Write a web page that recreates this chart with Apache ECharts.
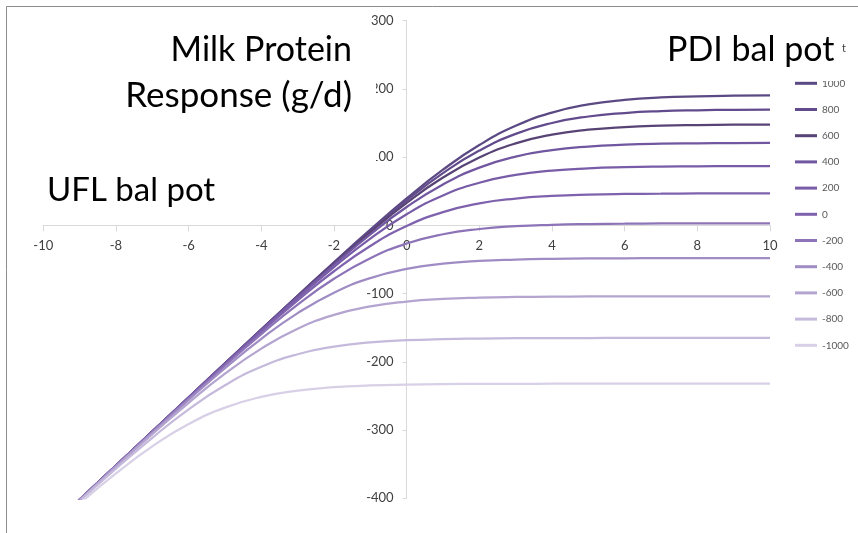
<!DOCTYPE html>
<html>
<head>
<meta charset="utf-8">
<script src="https://cdn.jsdelivr.net/npm/echarts@6/dist/echarts.min.js"></script>
<style>
html,body{margin:0;padding:0;background:#fff;}
#chart{width:858px;height:533px;}
</style>
</head>
<body>
<div id="chart"></div>
<script>
// UFL bal pot (x axis)
const uflBalPot = [-10,-9,-8,-7,-6,-5,-4,-3,-2,-1,0,1,2,3,4,5,6,7,8,9,10];
// PDI bal pot levels (legend)
const pdiLevels = ['1000','800','600','400','200','0','-200','-400','-600','-800','-1000'];
// Milk protein response (g/d) for each PDI level
const resp1000  = [-452,-402,-352,-302,-252,-202.3,-152.5,-103.1,-54.1,-6.3,39.5,81.6,117.7,145.9,165.3,177.3,183.9,187.5,189.2,190.1,190.6];
const resp800   = [-452,-402,-352,-302.1,-252.2,-202.3,-152.7,-103.4,-54.9,-7.8,36.7,76.6,109.6,134.1,150.1,159.6,164.7,167.4,168.7,169.4,169.7];
const resp600   = [-452,-402,-352.1,-302.1,-252.2,-202.5,-153,-103.9,-55.9,-9.8,33,70.1,99.5,120.1,133,140.2,144.1,146.1,147,147.5,147.8];
const resp400   = [-452,-402,-352.1,-302.2,-252.3,-202.7,-153.4,-104.8,-57.7,-13.1,26.9,60,84.7,100.9,110.4,115.6,118.3,119.7,120.3,120.7,120.8];
const resp200   = [-452,-402.1,-352.1,-302.3,-252.6,-203.1,-154.3,-106.6,-61,-19.3,16.3,43.8,62.5,74,80.3,83.6,85.3,86.2,86.6,86.8,86.9];
const resp0     = [-452,-402.1,-352.2,-302.5,-253,-204,-156,-109.9,-67.2,-30.2,-1,19.4,32.2,39.3,43.1,45.1,46.1,46.5,46.8,46.9,46.9];
const respN200  = [-452,-402.2,-352.4,-302.9,-253.8,-205.7,-159.3,-116.1,-78.3,-48.1,-26.6,-13,-5.3,-1.2,0.9,2,2.5,2.8,2.9,2.9,3];
const respN400  = [-452.2,-402.4,-352.9,-303.8,-255.7,-209.4,-166.3,-128.6,-98.6,-77.2,-63.8,-56.2,-52.1,-50.1,-49,-48.5,-48.2,-48.1,-48,-48,-48];
const respN600  = [-452.5,-403,-354,-306,-260,-217.4,-180.6,-151.5,-131.2,-118.7,-111.6,-107.8,-105.9,-104.9,-104.5,-104.2,-104.1,-104,-104,-104,-104];
const respN800  = [-453.2,-404.3,-356.7,-311.3,-269.7,-234.4,-207.3,-188.9,-177.7,-171.5,-168.3,-166.6,-165.8,-165.4,-165.2,-165.1,-165,-165,-165,-165,-165];
const respN1000 = [-455,-407.9,-363.6,-323.9,-291.2,-267.1,-251.4,-242.2,-237.2,-234.6,-233.3,-232.6,-232.3,-232.2,-232.1,-232,-232,-232,-232,-232,-232];
// y axis ticks
const yTicks = [-400,-300,-200,-100,0,100,200,300];

const allResp = [resp1000,resp800,resp600,resp400,resp200,resp0,respN200,respN400,respN600,respN800,respN1000];
const colors = ['#5B4983','#624B8D','#584375','#7156A0','#785CA8','#7F62AD','#8D73B7','#A08CC4','#B3A4D0','#C5BADB','#D7D0E6'];

const chart = echarts.init(document.getElementById('chart'), null, {renderer:'canvas'});
const FONT = 'Lato';

const gridLeft = 43.3, gridRight = 88, gridTop = 20.7, gridBottom = 34.7;
const plotW = 858 - gridLeft - gridRight, plotH = 533 - gridTop - gridBottom;
// move axes so they cross at zero (x=0, y=0)
const xAxisOffset = -(plotH * (0 - yTicks[0]) / (yTicks[yTicks.length-1] - yTicks[0]));
const yAxisOffset = -(plotW * 0.5);

const series = pdiLevels.map((name, i) => ({
  name: name,
  type: 'line',
  symbol: 'none',
  smooth: 0.5,
  clip: true,
  data: uflBalPot.map((x, j) => [x, allResp[i][j]]),
  lineStyle: {color: colors[i], width: 2.25},
  itemStyle: {color: colors[i]},
  emphasis: {disabled: true}
}));

chart.setOption({
  animation: false,
  backgroundColor: '#fff',
  grid: {left: gridLeft, right: gridRight, top: gridTop, bottom: gridBottom},
  xAxis: {
    type: 'value', min: -10, max: 10, interval: 2,
    position: 'bottom', offset: xAxisOffset,
    axisLine: {onZero: false, lineStyle: {color: '#D9D9D9', width: 1}},
    axisTick: {show: true, length: 6, lineStyle: {color: '#D9D9D9'}},
    axisLabel: {margin: 14, color: '#404040', fontFamily: FONT, fontSize: 13},
    splitLine: {show: false}
  },
  yAxis: {
    type: 'value', min: yTicks[0], max: yTicks[yTicks.length-1], interval: 100,
    position: 'left', offset: yAxisOffset,
    axisLine: {show: true, onZero: false, lineStyle: {color: '#D9D9D9', width: 1}},
    axisTick: {show: true, length: 4, lineStyle: {color: '#D9D9D9'}},
    axisLabel: {margin: 13, color: '#404040', fontFamily: FONT, fontSize: 13},
    splitLine: {show: false}
  },
  legend: {
    orient: 'vertical',
    left: 790, top: 71.3,
    icon: 'rect',
    itemWidth: 22, itemHeight: 3, itemGap: 12.2,
    data: pdiLevels,
    textStyle: {color: '#595959', fontFamily: FONT, fontSize: 10, lineHeight: 14},
    selectedMode: false
  },
  series: series,
  graphic: [
    {type: 'line', z: 100, shape: {x1: 6.5, y1: 6.5, x2: 858, y2: 6.5}, style: {stroke: '#8C8C8C', lineWidth: 1}},
    {type: 'line', z: 100, shape: {x1: 6.5, y1: 6.5, x2: 6.5, y2: 533}, style: {stroke: '#8C8C8C', lineWidth: 1}},
    {type: 'rect', z: 100, shape: {x: 110, y: 28, width: 266, height: 138}, style: {fill: '#fff'}},
    {type: 'text', z: 101, x: 352, y: 50, style: {text: 'Milk Protein', fill: '#000', font: '34px Lato', textAlign: 'right', textVerticalAlign: 'middle'}},
    {type: 'text', z: 101, x: 352, y: 96, style: {text: 'Response (g/d)', fill: '#000', font: '35px Lato', textAlign: 'right', textVerticalAlign: 'middle'}},
    {type: 'rect', z: 100, shape: {x: 655, y: 28, width: 185, height: 53}, style: {fill: '#fff'}},
    {type: 'text', z: 101, x: 667, y: 50, style: {text: 'PDI bal pot', fill: '#000', font: '34px Lato', textAlign: 'left', textVerticalAlign: 'middle'}},
    {type: 'text', z: 101, x: 47, y: 190, style: {text: 'UFL bal pot', fill: '#000', font: '33px Lato', textAlign: 'left', textVerticalAlign: 'middle'}},
    {type: 'text', z: 101, x: 842, y: 48, style: {text: 't', fill: '#404040', font: '11px Lato', textAlign: 'left', textVerticalAlign: 'middle'}}
  ]
});
</script>
</body>
</html>
